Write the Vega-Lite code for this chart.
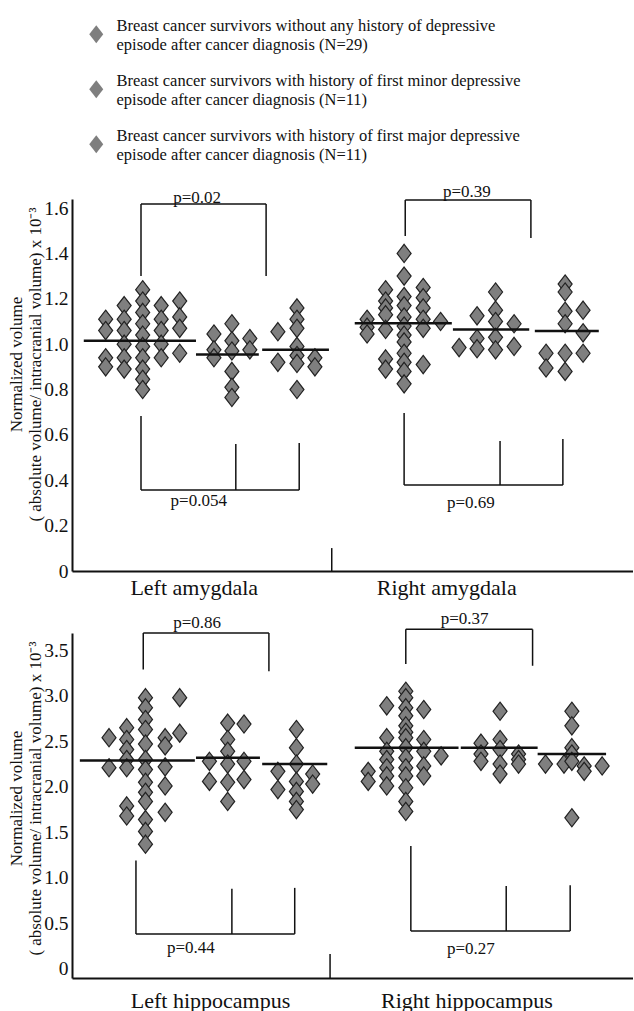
{
  "$schema": "https://vega.github.io/schema/vega-lite/v6.json",
  "padding": {"left": 7, "top": 26, "right": 0, "bottom": 0},
  "bounds": "flush",
  "spacing": 62,
  "config": {"view": {"stroke": null}, "font": "Liberation Serif"},
  "resolve": {"scale": {"shape": "independent"}, "legend": {"shape": "independent"}},
  "datasets": {
    "amyg": [
      {"g":"none","x":6.0,"v":1.11},{"g":"none","x":6.0,"v":1.06},{"g":"none","x":6.0,"v":0.94},{"g":"none","x":6.0,"v":0.90},
      {"g":"none","x":9.3,"v":1.17},{"g":"none","x":9.3,"v":1.11},{"g":"none","x":9.3,"v":1.06},{"g":"none","x":9.3,"v":1.00},{"g":"none","x":9.3,"v":0.94},{"g":"none","x":9.3,"v":0.89},
      {"g":"none","x":12.6,"v":1.24},{"g":"none","x":12.6,"v":1.19},{"g":"none","x":12.6,"v":1.14},{"g":"none","x":12.6,"v":1.09},{"g":"none","x":12.6,"v":1.04},{"g":"none","x":12.6,"v":0.99},{"g":"none","x":12.6,"v":0.94},{"g":"none","x":12.6,"v":0.89},{"g":"none","x":12.6,"v":0.845},{"g":"none","x":12.6,"v":0.80},
      {"g":"none","x":15.9,"v":1.17},{"g":"none","x":15.9,"v":1.11},{"g":"none","x":15.9,"v":1.06},{"g":"none","x":15.9,"v":1.00},{"g":"none","x":15.9,"v":0.94},
      {"g":"none","x":19.2,"v":1.19},{"g":"none","x":19.2,"v":1.12},{"g":"none","x":19.2,"v":1.07},{"g":"none","x":19.2,"v":0.96},
      {"g":"minor","x":25.3,"v":1.045},{"g":"minor","x":25.3,"v":0.975},{"g":"minor","x":25.3,"v":0.94},
      {"g":"minor","x":28.5,"v":1.09},{"g":"minor","x":28.5,"v":1.015},{"g":"minor","x":28.5,"v":0.97},{"g":"minor","x":28.5,"v":0.88},{"g":"minor","x":28.5,"v":0.81},{"g":"minor","x":28.5,"v":0.765},
      {"g":"minor","x":31.7,"v":1.025},{"g":"minor","x":31.7,"v":0.975},
      {"g":"major","x":36.7,"v":1.055},{"g":"major","x":36.7,"v":0.92},
      {"g":"major","x":40.1,"v":1.16},{"g":"major","x":40.1,"v":1.11},{"g":"major","x":40.1,"v":1.07},{"g":"major","x":40.1,"v":0.99},{"g":"major","x":40.1,"v":0.95},{"g":"major","x":40.1,"v":0.915},{"g":"major","x":40.1,"v":0.80},
      {"g":"major","x":43.3,"v":0.94},{"g":"major","x":43.3,"v":0.90},
      {"g":"none","x":52.6,"v":1.11},{"g":"none","x":52.6,"v":1.075},{"g":"none","x":52.6,"v":1.045},
      {"g":"none","x":55.9,"v":1.24},{"g":"none","x":55.9,"v":1.19},{"g":"none","x":55.9,"v":1.16},{"g":"none","x":55.9,"v":1.13},{"g":"none","x":55.9,"v":1.065},{"g":"none","x":55.9,"v":0.935},{"g":"none","x":55.9,"v":0.89},
      {"g":"none","x":59.2,"v":1.40},{"g":"none","x":59.2,"v":1.30},{"g":"none","x":59.2,"v":1.21},{"g":"none","x":59.2,"v":1.17},{"g":"none","x":59.2,"v":1.12},{"g":"none","x":59.2,"v":1.08},{"g":"none","x":59.2,"v":1.04},{"g":"none","x":59.2,"v":1.01},{"g":"none","x":59.2,"v":0.96},{"g":"none","x":59.2,"v":0.92},{"g":"none","x":59.2,"v":0.88},{"g":"none","x":59.2,"v":0.825},
      {"g":"none","x":62.6,"v":1.25},{"g":"none","x":62.6,"v":1.205},{"g":"none","x":62.6,"v":1.16},{"g":"none","x":62.6,"v":1.11},{"g":"none","x":62.6,"v":1.07},{"g":"none","x":62.6,"v":0.91},
      {"g":"none","x":65.7,"v":1.10},
      {"g":"minor","x":69.0,"v":0.985},
      {"g":"minor","x":72.2,"v":1.125},{"g":"minor","x":72.2,"v":1.025},{"g":"minor","x":72.2,"v":0.98},
      {"g":"minor","x":75.5,"v":1.23},{"g":"minor","x":75.5,"v":1.15},{"g":"minor","x":75.5,"v":1.10},{"g":"minor","x":75.5,"v":1.03},{"g":"minor","x":75.5,"v":0.975},
      {"g":"minor","x":78.8,"v":1.09},{"g":"minor","x":78.8,"v":0.99},
      {"g":"major","x":84.5,"v":0.96},{"g":"major","x":84.5,"v":0.895},
      {"g":"major","x":87.9,"v":1.265},{"g":"major","x":87.9,"v":1.23},{"g":"major","x":87.9,"v":1.145},{"g":"major","x":87.9,"v":1.09},{"g":"major","x":87.9,"v":0.96},{"g":"major","x":87.9,"v":0.88},
      {"g":"major","x":91.1,"v":1.15},{"g":"major","x":91.1,"v":1.05},{"g":"major","x":91.1,"v":0.96}
    ],
    "hippo": [
      {"g":"none","x":6.6,"v":2.54},{"g":"none","x":6.6,"v":2.21},
      {"g":"none","x":9.75,"v":2.65},{"g":"none","x":9.75,"v":2.52},{"g":"none","x":9.75,"v":2.41},{"g":"none","x":9.75,"v":2.30},{"g":"none","x":9.75,"v":2.21},{"g":"none","x":9.75,"v":1.79},{"g":"none","x":9.75,"v":1.68},
      {"g":"none","x":13.1,"v":2.98},{"g":"none","x":13.1,"v":2.87},{"g":"none","x":13.1,"v":2.74},{"g":"none","x":13.1,"v":2.63},{"g":"none","x":13.1,"v":2.47},{"g":"none","x":13.1,"v":2.30},{"g":"none","x":13.1,"v":2.19},{"g":"none","x":13.1,"v":2.05},{"g":"none","x":13.1,"v":1.94},{"g":"none","x":13.1,"v":1.84},{"g":"none","x":13.1,"v":1.64},{"g":"none","x":13.1,"v":1.51},{"g":"none","x":13.1,"v":1.37},
      {"g":"none","x":16.6,"v":2.54},{"g":"none","x":16.6,"v":2.45},{"g":"none","x":16.6,"v":2.22},{"g":"none","x":16.6,"v":2.01},{"g":"none","x":16.6,"v":1.72},
      {"g":"none","x":19.2,"v":2.98},{"g":"none","x":19.2,"v":2.59},
      {"g":"minor","x":24.5,"v":2.28},{"g":"minor","x":24.5,"v":2.06},
      {"g":"minor","x":27.75,"v":2.70},{"g":"minor","x":27.75,"v":2.52},{"g":"minor","x":27.75,"v":2.39},{"g":"minor","x":27.75,"v":2.25},{"g":"minor","x":27.75,"v":2.05},{"g":"minor","x":27.75,"v":1.84},
      {"g":"minor","x":30.66,"v":2.69},{"g":"minor","x":30.66,"v":2.28},{"g":"minor","x":30.66,"v":2.08},
      {"g":"major","x":36.7,"v":2.17},{"g":"major","x":36.7,"v":1.97},
      {"g":"major","x":40.0,"v":2.63},{"g":"major","x":40.0,"v":2.43},{"g":"major","x":40.0,"v":2.25},{"g":"major","x":40.0,"v":2.06},{"g":"major","x":40.0,"v":1.95},{"g":"major","x":40.0,"v":1.84},{"g":"major","x":40.0,"v":1.75},
      {"g":"major","x":42.9,"v":2.14},{"g":"major","x":42.9,"v":2.03},
      {"g":"none","x":52.8,"v":2.17},{"g":"none","x":52.8,"v":2.06},
      {"g":"none","x":56.1,"v":2.89},{"g":"none","x":56.1,"v":2.54},{"g":"none","x":56.1,"v":2.39},{"g":"none","x":56.1,"v":2.30},{"g":"none","x":56.1,"v":2.21},{"g":"none","x":56.1,"v":2.12},{"g":"none","x":56.1,"v":2.01},
      {"g":"none","x":59.5,"v":3.05},{"g":"none","x":59.5,"v":2.98},{"g":"none","x":59.5,"v":2.87},{"g":"none","x":59.5,"v":2.78},{"g":"none","x":59.5,"v":2.67},{"g":"none","x":59.5,"v":2.60},{"g":"none","x":59.5,"v":2.54},{"g":"none","x":59.5,"v":2.43},{"g":"none","x":59.5,"v":2.32},{"g":"none","x":59.5,"v":2.21},{"g":"none","x":59.5,"v":2.12},{"g":"none","x":59.5,"v":1.99},{"g":"none","x":59.5,"v":1.84},{"g":"none","x":59.5,"v":1.73},
      {"g":"none","x":62.7,"v":2.85},{"g":"none","x":62.7,"v":2.52},{"g":"none","x":62.7,"v":2.39},{"g":"none","x":62.7,"v":2.23},{"g":"none","x":62.7,"v":2.12},
      {"g":"none","x":65.8,"v":2.34},
      {"g":"minor","x":72.9,"v":2.48},{"g":"minor","x":72.9,"v":2.36},{"g":"minor","x":72.9,"v":2.28},
      {"g":"minor","x":76.3,"v":2.83},{"g":"minor","x":76.3,"v":2.52},{"g":"minor","x":76.3,"v":2.41},{"g":"minor","x":76.3,"v":2.25},{"g":"minor","x":76.3,"v":2.14},
      {"g":"minor","x":79.6,"v":2.36},{"g":"minor","x":79.6,"v":2.30},{"g":"minor","x":79.6,"v":2.25},
      {"g":"major","x":84.4,"v":2.25},
      {"g":"major","x":87.7,"v":2.25},
      {"g":"major","x":89.1,"v":2.83},{"g":"major","x":89.1,"v":2.67},{"g":"major","x":89.1,"v":2.43},{"g":"major","x":89.1,"v":2.36},{"g":"major","x":89.1,"v":2.28},{"g":"major","x":89.1,"v":1.66},
      {"g":"major","x":91.3,"v":2.23},{"g":"major","x":91.3,"v":2.17},
      {"g":"major","x":94.5,"v":2.23}
    ],
    "amygMed": [
      {"g":"none","x":2.1,"x2":22.1,"v":1.015},{"g":"minor","x":22.1,"x2":33.3,"v":0.955},{"g":"major","x":33.9,"x2":45.8,"v":0.975},
      {"g":"none","x":50.4,"x2":67.7,"v":1.092},{"g":"minor","x":67.9,"x2":81.5,"v":1.065},{"g":"major","x":82.5,"x2":93.9,"v":1.058}
    ],
    "hippoMed": [
      {"g":"none","x":1.4,"x2":21.9,"v":2.29},{"g":"minor","x":22.1,"x2":33.5,"v":2.32},{"g":"major","x":33.9,"x2":45.5,"v":2.25},
      {"g":"none","x":50.4,"x2":68.9,"v":2.43},{"g":"minor","x":69.3,"x2":83.0,"v":2.43},{"g":"major","x":83.0,"x2":95.2,"v":2.36}
    ],
    "amygBr": [
      {"x":12.3,"x2":34.6,"y":1.618,"y2":1.618},{"x":12.3,"x2":12.3,"y":1.618,"y2":1.30},{"x":34.6,"x2":34.6,"y":1.618,"y2":1.30},
      {"x":59.4,"x2":81.8,"y":1.636,"y2":1.636},{"x":59.4,"x2":59.4,"y":1.636,"y2":1.477},{"x":81.8,"x2":81.8,"y":1.636,"y2":1.468},
      {"x":12.3,"x2":40.5,"y":0.357,"y2":0.357},{"x":12.3,"x2":12.3,"y":0.357,"y2":0.683},{"x":29.2,"x2":29.2,"y":0.357,"y2":0.56},{"x":40.5,"x2":40.5,"y":0.357,"y2":0.564},
      {"x":59.2,"x2":87.5,"y":0.379,"y2":0.379},{"x":59.2,"x2":59.2,"y":0.379,"y2":0.697},{"x":76.3,"x2":76.3,"y":0.379,"y2":0.573},{"x":87.5,"x2":87.5,"y":0.379,"y2":0.582},
      {"x":46.3,"x2":46.3,"y":0,"y2":0.101}
    ],
    "hippoBr": [
      {"x":12.7,"x2":35.1,"y":3.69,"y2":3.69},{"x":12.7,"x2":12.7,"y":3.69,"y2":3.29},{"x":35.1,"x2":35.1,"y":3.69,"y2":3.27},
      {"x":59.5,"x2":82.1,"y":3.73,"y2":3.73},{"x":59.5,"x2":59.5,"y":3.73,"y2":3.35},{"x":82.1,"x2":82.1,"y":3.73,"y2":3.33},
      {"x":11.4,"x2":39.7,"y":0.384,"y2":0.384},{"x":11.4,"x2":11.4,"y":0.384,"y2":1.19},{"x":28.5,"x2":28.5,"y":0.384,"y2":0.88},{"x":39.7,"x2":39.7,"y":0.384,"y2":0.89},
      {"x":60.4,"x2":88.8,"y":0.417,"y2":0.417},{"x":60.4,"x2":60.4,"y":0.417,"y2":1.35},{"x":77.4,"x2":77.4,"y":0.417,"y2":0.91},{"x":88.8,"x2":88.8,"y":0.417,"y2":0.92},
      {"x":46.0,"x2":46.0,"y":-0.1,"y2":0.165}
    ],
    "amygP": [
      {"x":22.3,"v":1.645,"t":"p=0.02"},{"x":70.4,"v":1.671,"t":"p=0.39"},{"x":22.6,"v":0.309,"t":"p=0.054"},{"x":71.1,"v":0.30,"t":"p=0.69"}
    ],
    "hippoP": [
      {"x":22.3,"v":3.80,"t":"p=0.86"},{"x":70.0,"v":3.84,"t":"p=0.37"},{"x":21.2,"v":0.234,"t":"p=0.44"},{"x":71.1,"v":0.22,"t":"p=0.27"}
    ]
  },
  "vconcat": [
    {
      "width": 561,
      "height": 372,
      "layer": [
        {
          "data": {"name": "amygBr"},
          "mark": {"type": "rule", "color": "#111", "strokeWidth": 1.5},
          "encoding": {
            "x": {"field": "x", "type": "quantitative", "scale": {"domain": [0, 100], "nice": false, "zero": false},
              "axis": {"values": [21.7, 66.7], "labelExpr": "datum.value < 40 ? 'Left amygdala' : 'Right amygdala'", "ticks": false, "grid": false, "title": null, "labelFontSize": 22, "labelFont": "Liberation Serif", "labelColor": "#111", "labelPadding": 6, "labelFlush": false, "labelOverlap": false, "domainColor": "#111", "domainWidth": 2}},
            "x2": {"field": "x2"},
            "y": {"field": "y", "type": "quantitative", "scale": {"domain": [0, 1.64], "nice": false, "zero": false},
              "axis": {"values": [0, 0.2, 0.4, 0.6, 0.8, 1.0, 1.2, 1.4, 1.6], "labelExpr": "datum.value == 0 ? '0' : format(datum.value, '.1f')", "ticks": false, "grid": false, "labelFontSize": 19.5, "labelFont": "Liberation Serif", "labelColor": "#111", "labelPadding": 4, "labelFlush": false, "labelOverlap": false, "domainColor": "#111", "domainWidth": 2,
                "title": ["Normalized volume", "( absolute volume/ intracranial volume) x 10⁻³"], "titleFont": "Liberation Serif", "titleFontSize": 17, "titleFontWeight": "normal", "titleColor": "#111", "titleX": -47, "titleY": 165, "titleBaseline": "bottom", "titleAngle": -90}},
            "y2": {"field": "y2"}
          }
        },
        {
          "data": {"name": "amyg"},
          "mark": {"type": "point", "filled": true, "fill": "#7f7f7f", "stroke": "#222", "strokeWidth": 1.2, "size": 196, "opacity": 1},
          "encoding": {
            "x": {"field": "x", "type": "quantitative"},
            "y": {"field": "v", "type": "quantitative"},
            "shape": {"field": "g", "type": "nominal",
              "scale": {"domain": ["none", "minor", "major"], "range": ["M0,-1.3L1,0L0,1.3L-1,0Z", "M0,-1.3L1,0L0,1.3L-1,0Z", "M0,-1.3L1,0L0,1.3L-1,0Z"]},
              "legend": {"orient": "none", "legendX": 16, "legendY": -173, "title": null, "padding": 0, "symbolSize": 196, "symbolFillColor": "#7f7f7f", "symbolStrokeColor": "#222", "symbolStrokeWidth": 1.2, "labelFont": "Liberation Serif", "labelFontSize": 16.5, "labelColor": "#111", "labelLimit": 0, "labelOffset": 12, "rowPadding": 19, "labelBaseline": "bottom",
                "labelExpr": "datum.label == 'none' ? ['Breast cancer survivors without any history of depressive', 'episode after cancer diagnosis (N=29)'] : datum.label == 'minor' ? ['Breast cancer survivors with history of first minor depressive', 'episode after cancer diagnosis (N=11)'] : ['Breast cancer survivors with history of first major depressive', 'episode after cancer diagnosis (N=11)']",
                "encode": {"labels": {"update": {"lineHeight": {"value": 20}}}}}}
          }
        },
        {
          "data": {"name": "amygMed"},
          "mark": {"type": "rule", "color": "#111", "strokeWidth": 2.5},
          "encoding": {
            "x": {"field": "x", "type": "quantitative"},
            "x2": {"field": "x2"},
            "y": {"field": "v", "type": "quantitative"}
          }
        },
        {
          "data": {"name": "amygP"},
          "mark": {"type": "text", "fontSize": 17, "font": "Liberation Serif", "color": "#111", "align": "center", "baseline": "middle"},
          "encoding": {
            "x": {"field": "x", "type": "quantitative"},
            "y": {"field": "v", "type": "quantitative"},
            "text": {"field": "t"}
          }
        }
      ]
    },
    {
      "width": 561,
      "height": 345,
      "layer": [
        {
          "data": {"name": "hippoBr"},
          "mark": {"type": "rule", "color": "#111", "strokeWidth": 1.5},
          "encoding": {
            "x": {"field": "x", "type": "quantitative", "scale": {"domain": [0, 100], "nice": false, "zero": false},
              "axis": {"values": [24.6, 70.3], "labelExpr": "datum.value < 40 ? 'Left hippocampus' : 'Right hippocampus'", "ticks": false, "grid": false, "title": null, "labelFontSize": 22, "labelFont": "Liberation Serif", "labelColor": "#111", "labelPadding": 12, "labelFlush": false, "labelOverlap": false, "domainColor": "#111", "domainWidth": 2}},
            "x2": {"field": "x2"},
            "y": {"field": "y", "type": "quantitative", "scale": {"domain": [-0.1, 3.69], "nice": false, "zero": false},
              "axis": {"values": [0, 0.5, 1.0, 1.5, 2.0, 2.5, 3.0, 3.5], "labelExpr": "datum.value == 0 ? '0' : format(datum.value, '.1f')", "ticks": false, "grid": false, "labelFontSize": 19.5, "labelFont": "Liberation Serif", "labelColor": "#111", "labelPadding": 4, "labelFlush": false, "labelOverlap": false, "domainColor": "#111", "domainWidth": 2,
                "title": ["Normalized volume", "( absolute volume/ intracranial volume) x 10⁻³"], "titleFont": "Liberation Serif", "titleFontSize": 17, "titleFontWeight": "normal", "titleColor": "#111", "titleX": -47, "titleY": 165, "titleBaseline": "bottom", "titleAngle": -90}},
            "y2": {"field": "y2"}
          }
        },
        {
          "data": {"name": "hippo"},
          "mark": {"type": "point", "filled": true, "shape": "M0,-1.3L1,0L0,1.3L-1,0Z", "fill": "#7f7f7f", "stroke": "#222", "strokeWidth": 1.2, "size": 196, "opacity": 1},
          "encoding": {
            "x": {"field": "x", "type": "quantitative"},
            "y": {"field": "v", "type": "quantitative"},
            "detail": {"field": "g", "type": "nominal"}
          }
        },
        {
          "data": {"name": "hippoMed"},
          "mark": {"type": "rule", "color": "#111", "strokeWidth": 2.5},
          "encoding": {
            "x": {"field": "x", "type": "quantitative"},
            "x2": {"field": "x2"},
            "y": {"field": "v", "type": "quantitative"}
          }
        },
        {
          "data": {"name": "hippoP"},
          "mark": {"type": "text", "fontSize": 17, "font": "Liberation Serif", "color": "#111", "align": "center", "baseline": "middle"},
          "encoding": {
            "x": {"field": "x", "type": "quantitative"},
            "y": {"field": "v", "type": "quantitative"},
            "text": {"field": "t"}
          }
        }
      ]
    }
  ]
}
